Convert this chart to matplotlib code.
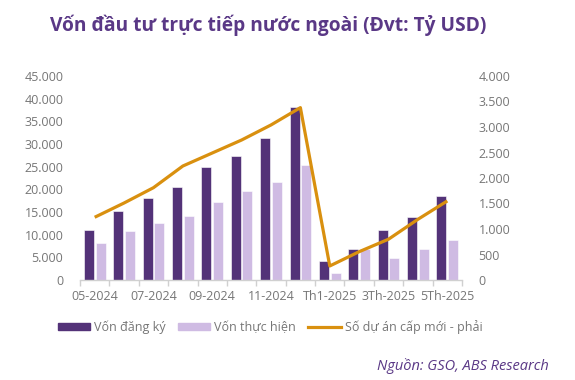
import matplotlib
matplotlib.use("Agg")
import matplotlib.pyplot as plt
import numpy as np
from matplotlib.patches import Patch
from matplotlib.lines import Line2D

plt.rcParams['font.family'] = ['Open Sans', 'DejaVu Sans']

months = ["05-2024", "06-2024", "07-2024", "08-2024", "09-2024", "10-2024",
          "11-2024", "12-2024", "Th1-2025", "Th2-2025", "3Th-2025", "Th4-2025", "5Th-2025"]
von_dang_ky = [11.1, 15.2, 18.0, 20.5, 24.9, 27.3, 31.3, 38.2, 4.3, 6.9, 11.0, 13.8, 18.5]
von_thuc_hien = [8.2, 10.8, 12.6, 14.2, 17.3, 19.6, 21.7, 25.4, 1.6, 6.8, 4.9, 6.8, 8.9]
so_du_an = [1230, 1510, 1810, 2235, 2490, 2745, 3040, 3380, 275, 555, 800, 1190, 1550]
left_ticks = [0, 5, 10, 15, 20, 25, 30, 35, 40, 45]
left_labels = ["0", "5.000", "10.000", "15.000", "20.000", "25.000", "30.000", "35.000", "40.000", "45.000"]
right_ticks = [0, 500, 1000, 1500, 2000, 2500, 3000, 3500, 4000]
right_labels = ["0", "500", "1.000", "1.500", "2.000", "2.500", "3.000", "3.500", "4.000"]

DARK = "#533278"
LIGHT = "#cfbbe3"
ORANGE = "#d9900f"
TITLE = "#5a3886"
GREY = "#767676"

fig = plt.figure(figsize=(5.75, 3.8), dpi=100)
ax = fig.add_axes([80/575, 100/380, 382/575, 204/380])
x = np.arange(len(months))
w = 0.34
ax.bar(x - 0.2, von_dang_ky, w, color=DARK, edgecolor="white", linewidth=0.4, zorder=2)
ax.bar(x + 0.2, von_thuc_hien, w, color=LIGHT, edgecolor="white", linewidth=0.4, zorder=2)
ax.set_xlim(-0.5, len(months) - 0.5)
ax.set_ylim(0, 45)
ax.set_yticks(left_ticks)
ax.set_yticklabels(left_labels)
ax.set_xticks(x[::2])
ax.set_xticklabels(months[::2])
ax.set_xticks(np.arange(-0.5, len(months)), minor=True)
ax.tick_params(axis='x', which='major', length=0, pad=7, labelsize=9, labelcolor=GREY)
ax.tick_params(axis='x', which='minor', length=4, color="#d0d0d0", width=1)
ax.tick_params(axis='y', length=0, pad=12, labelsize=9, labelcolor=GREY)
for s in ['top', 'left', 'right']:
    ax.spines[s].set_visible(False)
ax.spines['bottom'].set_color("#d0d0d0")
ax.spines['bottom'].set_linewidth(1)

ax2 = ax.twinx()
ax2.plot(x, so_du_an, color=ORANGE, linewidth=2.3, zorder=3, solid_capstyle='butt')
ax2.set_ylim(0, 4000)
ax2.set_yticks(right_ticks)
ax2.set_yticklabels(right_labels)
ax2.tick_params(axis='y', length=0, pad=12, labelsize=9, labelcolor=GREY)
for s in ['top', 'left', 'right', 'bottom']:
    ax2.spines[s].set_visible(False)

fig.text(49.5/575, 1 - 25.5/380, "Vốn đầu tư trực tiếp nước ngoài (Đvt: Tỷ USD)",
         fontsize=13.8, fontweight='bold', color=TITLE, va='center', ha='left')

handles = [Patch(color=DARK), Patch(color=LIGHT), Line2D([0], [0], color=ORANGE, linewidth=2.3)]
labels = ["Vốn đăng ký", "Vốn thực hiện", "Số dự án cấp mới - phải"]
fig.legend(handles, labels, loc='center', bbox_to_anchor=(270/575, 1 - 327/380), ncol=3,
           frameon=False, fontsize=9, labelcolor=GREY, handlelength=2.6, handleheight=0.55,
           columnspacing=1.0, handletextpad=0.3)

fig.text(549/575, 1 - 366/380, "Nguồn: GSO, ABS Research", fontsize=10.5, style='italic',
         color=TITLE, ha='right', va='center')

fig.savefig("out.png", dpi=100)
